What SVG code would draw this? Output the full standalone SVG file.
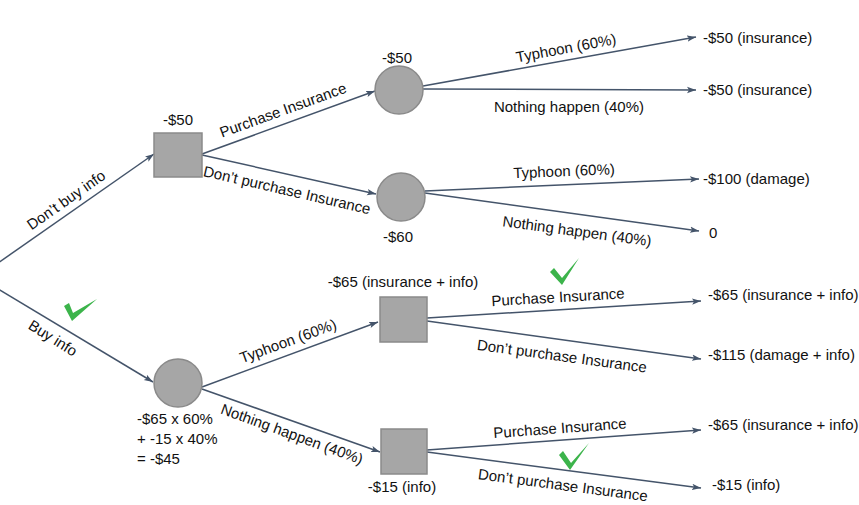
<svg xmlns="http://www.w3.org/2000/svg" width="859" height="505" viewBox="0 0 859 505">
<defs>
<marker id="arr" markerUnits="userSpaceOnUse" markerWidth="10" markerHeight="8" refX="9" refY="4" orient="auto">
<path d="M0,0.8 L9,4 L0,7.2 L2,4 Z" fill="#44546a"/>
</marker>
</defs>
<style>
.c{stroke:#44546a;stroke-width:1.5;fill:none;marker-end:url(#arr)}
.n{fill:#a6a6a6;stroke:#8a8a8a;stroke-width:1.5}
text{font-family:"Liberation Sans",Arial,sans-serif;font-size:15px;fill:#111}
.m{text-anchor:middle}
.ck{fill:#3cb44b}
</style>
<rect width="859" height="505" fill="#fff"/>
<g id="connectors">
<path class="c" d="M-22,277 L154,154"/>
<path class="c" d="M-22,277 L153,382"/>
<path class="c" d="M202,154 L375,91"/>
<path class="c" d="M202,155 L376,194"/>
<path class="c" d="M423,86 L696,37"/>
<path class="c" d="M423,89 L696,90"/>
<path class="c" d="M425,191 L699,179"/>
<path class="c" d="M425,193 L699,231"/>
<path class="c" d="M202,387 L378,322"/>
<path class="c" d="M202,389 L380,452"/>
<path class="c" d="M427,318 L701,301"/>
<path class="c" d="M427,321 L701,359"/>
<path class="c" d="M427,450 L701,430"/>
<path class="c" d="M427,452 L701,488"/>
</g>
<g id="edge-labels">
<text class="m" x="66" y="200" dy=".35em" transform="rotate(-35 66 200)">Don’t buy info</text>
<text class="m" x="53" y="338" dy=".35em" transform="rotate(32 53 338)">Buy info</text>
<text class="m" x="283" y="110" dy=".35em" transform="rotate(-20 283 110)">Purchase Insurance</text>
<text class="m" x="287" y="190" dy=".35em" transform="rotate(13 287 190)">Don’t purchase Insurance</text>
<text class="m" x="566" y="48" dy=".35em" transform="rotate(-10.5 566 48)">Typhoon (60%)</text>
<text class="m" x="569" y="107" dy=".35em">Nothing happen (40%)</text>
<text class="m" x="564" y="171" dy=".35em" transform="rotate(-2.3 564 171)">Typhoon (60%)</text>
<text class="m" x="577" y="231" dy=".35em" transform="rotate(7.7 577 231)">Nothing happen (40%)</text>
<text class="m" x="288" y="341" dy=".35em" transform="rotate(-20 288 341)">Typhoon (60%)</text>
<text class="m" x="292" y="434" dy=".35em" transform="rotate(20 292 434)">Nothing happen (40%)</text>
<text class="m" x="558" y="297" dy=".35em" transform="rotate(-3.4 558 297)">Purchase Insurance</text>
<text class="m" x="562" y="356" dy=".35em" transform="rotate(7.7 562 356)">Don’t purchase Insurance</text>
<text class="m" x="560" y="428" dy=".35em" transform="rotate(-4.2 560 428)">Purchase Insurance</text>
<text class="m" x="563" y="485" dy=".35em" transform="rotate(7.5 563 485)">Don’t purchase Insurance</text>
</g>
<g id="decision1">
<rect class="n" x="154" y="133" width="48" height="44"/>
<text class="m" x="178" y="125">-$50</text>
</g>
<g id="chance1">
<circle class="n" cx="399" cy="90" r="24"/>
<text class="m" x="397" y="63">-$50</text>
</g>
<g id="chance2">
<circle class="n" cx="401" cy="197" r="24"/>
<text class="m" x="398" y="242">-$60</text>
</g>
<g id="chance3">
<circle class="n" cx="178" cy="383" r="24"/>
<text x="137" y="424">-$65 x 60%</text>
<text x="137" y="444">+ -15 x 40%</text>
<text x="137" y="464">= -$45</text>
</g>
<g id="decision2">
<rect class="n" x="380" y="297" width="47" height="45"/>
<text class="m" x="403" y="287">-$65 (insurance + info)</text>
</g>
<g id="decision3">
<rect class="n" x="381" y="429" width="46" height="45"/>
<text class="m" x="402" y="492">-$15 (info)</text>
</g>
<g id="outcomes">
<text x="703" y="43">-$50 (insurance)</text>
<text x="703" y="95">-$50 (insurance)</text>
<text x="703" y="184">-$100 (damage)</text>
<text x="709" y="238">0</text>
<text x="708" y="300">-$65 (insurance + info)</text>
<text x="708" y="360">-$115 (damage + info)</text>
<text x="708" y="430">-$65 (insurance + info)</text>
<text x="712" y="490">-$15 (info)</text>
</g>
<g id="checks">
<path class="ck" d="M64,306 L69,303 L73,313 L97,299 L72,321 Z"/>
<path class="ck" d="M550,272 L554,268 L562,278 L579,258 L562,285 Z"/>
<path class="ck" d="M559,455 L563,451 L571,463 L589,443 L570,470 Z"/>
</g>
</svg>
